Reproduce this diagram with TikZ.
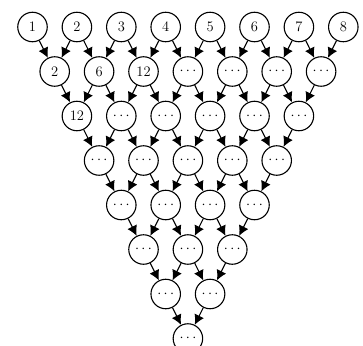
\documentclass[tikz,border=0pt]{standalone}
\usetikzlibrary{arrows.meta}
\begin{document}
\begin{tikzpicture}[x=1pt,y=-1pt,
  cell/.style={circle,draw,line width=1.1pt,minimum size=29.5pt,inner sep=0pt,font=\fontsize{14.5}{17}\selectfont},
  link/.style={line width=1.1pt,-{Latex[length=10pt,width=10.5pt]}}]
\useasboundingbox (0,0) rectangle (363,345);
\foreach \lab [count=\c from 0] in {1,2,3,4,5,6,7,8}
  \node[cell] (n-0-\c) at ({32.5+44.4*\c},27) {\lab};
\foreach \lab [count=\c from 0] in {2,6,12,$\cdots$,$\cdots$,$\cdots$,$\cdots$}
  \node[cell] (n-1-\c) at ({32.5+44.4*\c+22.2},{27+44.5}) {\lab};
\foreach \lab [count=\c from 0] in {12,$\cdots$,$\cdots$,$\cdots$,$\cdots$,$\cdots$}
  \node[cell] (n-2-\c) at ({32.5+44.4*\c+44.4},{27+89}) {\lab};
\foreach \r in {3,...,7}{
  \pgfmathtruncatemacro\n{7-\r}
  \foreach \c in {0,...,\n}
    \node[cell] (n-\r-\c) at ({32.5+44.4*\c+22.2*\r},{27+44.5*\r}) {$\cdots$};
}
\foreach \r in {0,...,6}{
  \pgfmathtruncatemacro\n{6-\r}
  \pgfmathtruncatemacro\rr{\r+1}
  \foreach \c in {0,...,\n}{
    \pgfmathtruncatemacro\cp{\c+1}
    \draw[link] (n-\r-\c) -- (n-\rr-\c);
    \draw[link] (n-\r-\cp) -- (n-\rr-\c);
  }
}
\end{tikzpicture}
\end{document}
